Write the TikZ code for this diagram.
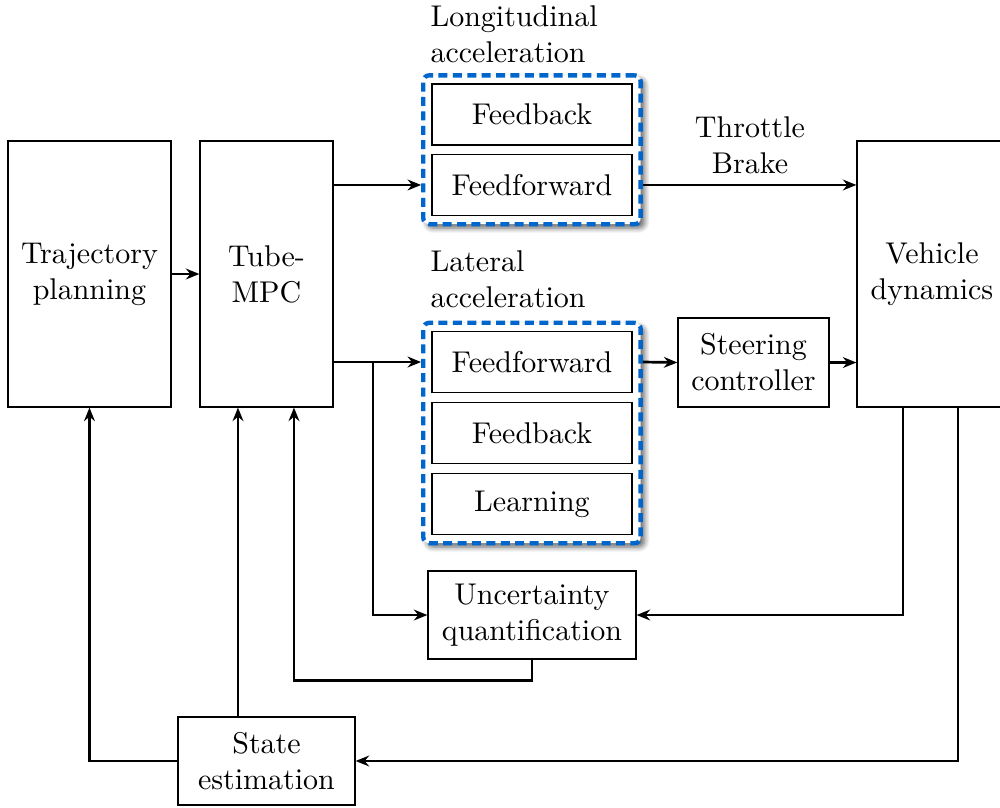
\documentclass[tikz,border=0pt]{standalone}
\usepackage{tikz}
\usetikzlibrary{arrows.meta,fit,backgrounds,shadows.blur}

\definecolor{groupblue}{RGB}{0,102,204}

\begin{document}
\begin{tikzpicture}

\tikzstyle{myblock}=[
  draw,
  thin,
  align=center,
  inner sep=0pt]

\tikzstyle{mysub}=[
  myblock,
  minimum width=2.343cm,
  minimum height=0.715cm]

\tikzstyle{mygroup}=[
  draw=groupblue,
  line width=1.45pt,
  dash pattern=on 3pt off 1.8pt,
  rounded corners=2pt,
  fill=white,
  inner sep=2.7pt,
  blur shadow={shadow xshift=1.3pt, shadow yshift=-1.3pt, shadow blur steps=6, shadow opacity=60}]

\tikzstyle{mylabel}=[align=left, inner sep=0pt]

\tikzstyle{myarrow}=[line width=0.9pt, -{Stealth[length=4.5pt, width=3.6pt]}]

\useasboundingbox (0,0) rectangle (11.715,9.454);

% define points
\path
  (1.048,6.244) coordinate(TP0)
  (3.122,6.244) coordinate(MPC0)
  (10.918,6.244) coordinate(VD0)
  (6.232,8.112) coordinate(LFB0)
  (6.232,7.287) coordinate(LFF0)
  (6.232,5.213) coordinate(AFF0)
  (6.232,4.381) coordinate(AFB0)
  (6.232,3.550) coordinate(ALN0)
  (8.827,5.207) coordinate(SC0)
  (6.232,2.249) coordinate(UQ0)
  (3.122,0.539) coordinate(SE0)
  (4.370,5.213) coordinate(B)
  ;

\node[myblock, minimum width=1.910cm, minimum height=3.116cm] (TP) at (TP0) {Trajectory\\planning};
\node[myblock, minimum width=1.558cm, minimum height=3.116cm] (MPC) at (MPC0) {Tube-\\MPC};
\node[myblock, minimum width=1.757cm, minimum height=3.116cm] (VD) at (VD0) {Vehicle\\dynamics};

\node[mysub] (LFB) at (LFB0) {Feedback};
\node[mysub] (LFF) at (LFF0) {Feedforward};

\node[mysub] (AFF) at (AFF0) {Feedforward};
\node[mysub] (AFB) at (AFB0) {Feedback};
\node[mysub] (ALN) at (ALN0) {Learning};

\begin{scope}[on background layer]
\node[mygroup, fit=(LFB)(LFF)] (LG) {};
\node[mygroup, fit=(AFF)(AFB)(ALN)] (AG) {};
\end{scope}

\node[mylabel, anchor=north west] (LGlab) at (5.037,9.395) {Longitudinal\\acceleration};
\node[mylabel, anchor=north west] (AGlab) at (5.037,6.525) {Lateral\\acceleration};
\node[inner sep=0pt, align=center] (TB) at (8.786,7.749) {Throttle\\Brake};

\node[myblock, minimum width=1.769cm, minimum height=1.043cm] (SC) at (SC0) {Steering\\controller};
\node[myblock, minimum width=2.437cm, minimum height=1.031cm] (UQ) at (UQ0) {Uncertainty\\quantification};
\node[myblock, minimum width=2.074cm, minimum height=1.031cm] (SE) at (SE0) {State\\estimation};

% draw lines
\draw[myarrow] (TP) -- (MPC);
\draw[myarrow] (MPC.east |- LFF) -- (LG.west |- LFF);
\draw[myarrow] (MPC.east |- AFF) -- (AG.west |- AFF);
\draw[myarrow] (B) |- (UQ.west);
\draw[myarrow] (LG.east |- LFF) -- (VD.west |- LFF);
\draw[myarrow] (AG.east |- AFF) -- (SC.west);
\draw[myarrow] (SC.east) -- (VD.west |- SC);
\draw[myarrow] ([xshift=-0.340cm]VD.south) |- (UQ.east);
\draw[myarrow] ([xshift=0.305cm]VD.south) |- (SE.east);
\draw[myarrow] (SE.west) -| (TP.south);
\draw[myarrow] ([xshift=-0.334cm]SE.north) -- ([xshift=-0.334cm]MPC.south);
\draw[myarrow] (UQ.south) -- ++(0,-0.246) -| ([xshift=0.322cm]MPC.south);

\end{tikzpicture}
\end{document}
